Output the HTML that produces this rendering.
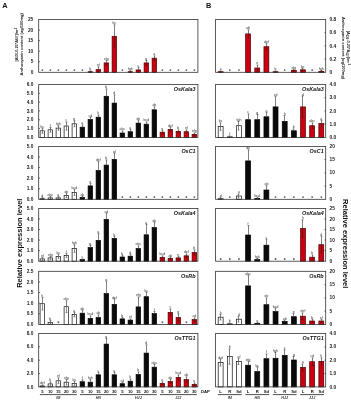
<!DOCTYPE html><html><head><meta charset="utf-8"><style>html,body{margin:0;padding:0;background:#fff;}svg{display:block;will-change:transform;}</style></head><body><svg width="351" height="400" viewBox="0 0 351 400">
<style>text{font-family:"Liberation Sans", sans-serif;}.tk{font-size:4.8px;font-weight:bold;fill:#222;}.sig{font-size:3.5px;fill:#333;text-anchor:middle;}.gene{font-size:5.45px;font-weight:bold;font-style:italic;fill:#111;text-anchor:end;}.ax{stroke:#333;stroke-width:0.8;fill:none;}.err{stroke:#555;stroke-width:0.75;}.xl{font-size:4.2px;font-weight:bold;fill:#111;text-anchor:middle;}.gl{font-size:3.7px;font-weight:bold;font-style:italic;fill:#333;text-anchor:middle;}</style>
<rect width="351" height="400" fill="#fff"/>
<text x="2.2" y="7.6" style="font-size:7.3px;font-weight:bold;fill:#111">A</text>
<text x="205.9" y="7.6" style="font-size:7.3px;font-weight:bold;fill:#111">B</text>
<circle cx="42.35" cy="70.10" r="0.95" fill="#606060"/>
<circle cx="50.35" cy="70.10" r="0.95" fill="#606060"/>
<circle cx="58.35" cy="70.10" r="0.95" fill="#606060"/>
<circle cx="66.35" cy="70.10" r="0.95" fill="#606060"/>
<circle cx="74.35" cy="70.10" r="0.95" fill="#606060"/>
<circle cx="82.35" cy="70.10" r="0.95" fill="#606060"/>
<rect x="88.10" y="71.70" width="4.50" height="0.60" fill="#cc0010" stroke="#4a0000" stroke-width="0.7"/>
<line x1="90.50" y1="70.90" x2="90.50" y2="71.70" class="err"/>
<line x1="89.60" y1="70.90" x2="91.40" y2="70.90" class="err"/>
<line x1="90.50" y1="71.70" x2="90.50" y2="71.80" stroke="#5a0000" stroke-width="0.7"/>
<line x1="89.60" y1="71.80" x2="91.40" y2="71.80" stroke="#5a0000" stroke-width="0.7"/>
<text x="90.35" y="70.30" class="sig">b</text>
<rect x="96.10" y="69.60" width="4.50" height="2.70" fill="#cc0010" stroke="#4a0000" stroke-width="0.7"/>
<line x1="98.50" y1="66.80" x2="98.50" y2="69.60" class="err"/>
<line x1="97.60" y1="66.80" x2="99.40" y2="66.80" class="err"/>
<line x1="98.50" y1="69.60" x2="98.50" y2="71.80" stroke="#5a0000" stroke-width="0.7"/>
<line x1="97.60" y1="71.80" x2="99.40" y2="71.80" stroke="#5a0000" stroke-width="0.7"/>
<text x="98.35" y="66.20" class="sig">ef</text>
<rect x="104.10" y="62.90" width="4.50" height="9.40" fill="#cc0010" stroke="#4a0000" stroke-width="0.7"/>
<line x1="106.50" y1="60.40" x2="106.50" y2="62.90" class="err"/>
<line x1="105.60" y1="60.40" x2="107.40" y2="60.40" class="err"/>
<line x1="106.50" y1="62.90" x2="106.50" y2="65.40" stroke="#5a0000" stroke-width="0.7"/>
<line x1="105.60" y1="65.40" x2="107.40" y2="65.40" stroke="#5a0000" stroke-width="0.7"/>
<text x="106.35" y="59.80" class="sig">efg</text>
<rect x="112.10" y="36.30" width="4.50" height="36.00" fill="#cc0010" stroke="#4a0000" stroke-width="0.7"/>
<line x1="114.50" y1="24.80" x2="114.50" y2="36.30" class="err"/>
<line x1="113.60" y1="24.80" x2="115.40" y2="24.80" class="err"/>
<line x1="114.50" y1="36.30" x2="114.50" y2="47.80" stroke="#5a0000" stroke-width="0.7"/>
<line x1="113.60" y1="47.80" x2="115.40" y2="47.80" stroke="#5a0000" stroke-width="0.7"/>
<text x="114.35" y="24.20" class="sig">bc</text>
<circle cx="122.35" cy="70.10" r="0.95" fill="#606060"/>
<rect x="128.10" y="71.70" width="4.50" height="0.60" fill="#cc0010" stroke="#4a0000" stroke-width="0.7"/>
<line x1="130.50" y1="70.90" x2="130.50" y2="71.70" class="err"/>
<line x1="129.60" y1="70.90" x2="131.40" y2="70.90" class="err"/>
<line x1="130.50" y1="71.70" x2="130.50" y2="71.80" stroke="#5a0000" stroke-width="0.7"/>
<line x1="129.60" y1="71.80" x2="131.40" y2="71.80" stroke="#5a0000" stroke-width="0.7"/>
<text x="130.35" y="70.30" class="sig">fgh</text>
<rect x="136.10" y="69.90" width="4.50" height="2.40" fill="#cc0010" stroke="#4a0000" stroke-width="0.7"/>
<line x1="138.50" y1="67.40" x2="138.50" y2="69.90" class="err"/>
<line x1="137.60" y1="67.40" x2="139.40" y2="67.40" class="err"/>
<line x1="138.50" y1="69.90" x2="138.50" y2="71.80" stroke="#5a0000" stroke-width="0.7"/>
<line x1="137.60" y1="71.80" x2="139.40" y2="71.80" stroke="#5a0000" stroke-width="0.7"/>
<text x="138.35" y="66.80" class="sig">c</text>
<rect x="144.10" y="62.90" width="4.50" height="9.40" fill="#cc0010" stroke="#4a0000" stroke-width="0.7"/>
<line x1="146.50" y1="60.40" x2="146.50" y2="62.90" class="err"/>
<line x1="145.60" y1="60.40" x2="147.40" y2="60.40" class="err"/>
<line x1="146.50" y1="62.90" x2="146.50" y2="65.40" stroke="#5a0000" stroke-width="0.7"/>
<line x1="145.60" y1="65.40" x2="147.40" y2="65.40" stroke="#5a0000" stroke-width="0.7"/>
<text x="146.35" y="59.80" class="sig">g</text>
<rect x="152.10" y="58.20" width="4.50" height="14.10" fill="#cc0010" stroke="#4a0000" stroke-width="0.7"/>
<line x1="154.50" y1="55.90" x2="154.50" y2="58.20" class="err"/>
<line x1="153.60" y1="55.90" x2="155.40" y2="55.90" class="err"/>
<line x1="154.50" y1="58.20" x2="154.50" y2="60.50" stroke="#5a0000" stroke-width="0.7"/>
<line x1="153.60" y1="60.50" x2="155.40" y2="60.50" stroke="#5a0000" stroke-width="0.7"/>
<text x="154.35" y="55.30" class="sig">a</text>
<circle cx="162.35" cy="70.10" r="0.95" fill="#606060"/>
<circle cx="170.35" cy="70.10" r="0.95" fill="#606060"/>
<circle cx="178.35" cy="70.10" r="0.95" fill="#606060"/>
<circle cx="186.35" cy="70.10" r="0.95" fill="#606060"/>
<circle cx="194.35" cy="70.10" r="0.95" fill="#606060"/>
<rect x="218.20" y="71.70" width="4.90" height="0.60" fill="#cc0010" stroke="#4a0000" stroke-width="0.7"/>
<line x1="220.50" y1="70.90" x2="220.50" y2="71.70" class="err"/>
<line x1="219.60" y1="70.90" x2="221.40" y2="70.90" class="err"/>
<line x1="220.50" y1="71.70" x2="220.50" y2="71.80" stroke="#5a0000" stroke-width="0.7"/>
<line x1="219.60" y1="71.80" x2="221.40" y2="71.80" stroke="#5a0000" stroke-width="0.7"/>
<text x="220.65" y="70.30" class="sig">a</text>
<circle cx="229.80" cy="70.10" r="0.95" fill="#606060"/>
<circle cx="238.95" cy="70.10" r="0.95" fill="#606060"/>
<rect x="245.65" y="33.90" width="4.90" height="38.40" fill="#cc0010" stroke="#4a0000" stroke-width="0.7"/>
<line x1="248.50" y1="29.90" x2="248.50" y2="33.90" class="err"/>
<line x1="247.60" y1="29.90" x2="249.40" y2="29.90" class="err"/>
<line x1="248.50" y1="33.90" x2="248.50" y2="37.90" stroke="#5a0000" stroke-width="0.7"/>
<line x1="247.60" y1="37.90" x2="249.40" y2="37.90" stroke="#5a0000" stroke-width="0.7"/>
<text x="248.10" y="29.30" class="sig">ab</text>
<rect x="254.80" y="68.00" width="4.90" height="4.30" fill="#cc0010" stroke="#4a0000" stroke-width="0.7"/>
<line x1="257.50" y1="65.00" x2="257.50" y2="68.00" class="err"/>
<line x1="256.60" y1="65.00" x2="258.40" y2="65.00" class="err"/>
<line x1="257.50" y1="68.00" x2="257.50" y2="71.00" stroke="#5a0000" stroke-width="0.7"/>
<line x1="256.60" y1="71.00" x2="258.40" y2="71.00" stroke="#5a0000" stroke-width="0.7"/>
<text x="257.25" y="64.40" class="sig">e</text>
<rect x="263.95" y="46.70" width="4.90" height="25.60" fill="#cc0010" stroke="#4a0000" stroke-width="0.7"/>
<line x1="266.50" y1="43.60" x2="266.50" y2="46.70" class="err"/>
<line x1="265.60" y1="43.60" x2="267.40" y2="43.60" class="err"/>
<line x1="266.50" y1="46.70" x2="266.50" y2="49.80" stroke="#5a0000" stroke-width="0.7"/>
<line x1="265.60" y1="49.80" x2="267.40" y2="49.80" stroke="#5a0000" stroke-width="0.7"/>
<text x="266.40" y="43.00" class="sig">def</text>
<rect x="273.10" y="71.70" width="4.90" height="0.60" fill="#cc0010" stroke="#4a0000" stroke-width="0.7"/>
<line x1="275.50" y1="70.90" x2="275.50" y2="71.70" class="err"/>
<line x1="274.60" y1="70.90" x2="276.40" y2="70.90" class="err"/>
<line x1="275.50" y1="71.70" x2="275.50" y2="71.80" stroke="#5a0000" stroke-width="0.7"/>
<line x1="274.60" y1="71.80" x2="276.40" y2="71.80" stroke="#5a0000" stroke-width="0.7"/>
<text x="275.55" y="70.30" class="sig">b</text>
<circle cx="284.70" cy="70.10" r="0.95" fill="#606060"/>
<rect x="291.40" y="70.40" width="4.90" height="1.90" fill="#cc0010" stroke="#4a0000" stroke-width="0.7"/>
<line x1="293.50" y1="69.40" x2="293.50" y2="70.40" class="err"/>
<line x1="292.60" y1="69.40" x2="294.40" y2="69.40" class="err"/>
<line x1="293.50" y1="70.40" x2="293.50" y2="71.40" stroke="#5a0000" stroke-width="0.7"/>
<line x1="292.60" y1="71.40" x2="294.40" y2="71.40" stroke="#5a0000" stroke-width="0.7"/>
<text x="293.85" y="68.80" class="sig">efg</text>
<rect x="300.55" y="69.80" width="4.90" height="2.50" fill="#cc0010" stroke="#4a0000" stroke-width="0.7"/>
<line x1="302.50" y1="68.40" x2="302.50" y2="69.80" class="err"/>
<line x1="301.60" y1="68.40" x2="303.40" y2="68.40" class="err"/>
<line x1="302.50" y1="69.80" x2="302.50" y2="71.20" stroke="#5a0000" stroke-width="0.7"/>
<line x1="301.60" y1="71.20" x2="303.40" y2="71.20" stroke="#5a0000" stroke-width="0.7"/>
<text x="303.00" y="67.80" class="sig">bc</text>
<circle cx="312.15" cy="70.10" r="0.95" fill="#606060"/>
<rect x="318.85" y="71.40" width="4.90" height="0.90" fill="#cc0010" stroke="#4a0000" stroke-width="0.7"/>
<line x1="321.50" y1="70.40" x2="321.50" y2="71.40" class="err"/>
<line x1="320.60" y1="70.40" x2="322.40" y2="70.40" class="err"/>
<line x1="321.50" y1="71.40" x2="321.50" y2="71.80" stroke="#5a0000" stroke-width="0.7"/>
<line x1="320.60" y1="71.80" x2="322.40" y2="71.80" stroke="#5a0000" stroke-width="0.7"/>
<text x="321.30" y="69.80" class="sig">fgh</text>
<rect x="38.7" y="19.5" width="159.2" height="52.8" class="ax"/>
<rect x="215.6" y="19.5" width="110.1" height="52.8" class="ax"/>
<text x="33.3" y="21.10" class="tk" text-anchor="end">25</text>
<text x="33.3" y="31.66" class="tk" text-anchor="end">20</text>
<line x1="38.70" y1="30.06" x2="39.90" y2="30.06" class="ax"/>
<text x="33.3" y="42.22" class="tk" text-anchor="end">15</text>
<line x1="38.70" y1="40.62" x2="39.90" y2="40.62" class="ax"/>
<text x="33.3" y="52.78" class="tk" text-anchor="end">10</text>
<line x1="38.70" y1="51.18" x2="39.90" y2="51.18" class="ax"/>
<text x="33.3" y="63.34" class="tk" text-anchor="end">5</text>
<line x1="38.70" y1="61.74" x2="39.90" y2="61.74" class="ax"/>
<text x="33.3" y="73.90" class="tk" text-anchor="end">0</text>
<text x="329.6" y="21.10" class="tk" text-anchor="start">0.8</text>
<text x="329.6" y="34.30" class="tk" text-anchor="start">0.6</text>
<line x1="324.50" y1="32.70" x2="325.70" y2="32.70" class="ax"/>
<text x="329.6" y="47.50" class="tk" text-anchor="start">0.4</text>
<line x1="324.50" y1="45.90" x2="325.70" y2="45.90" class="ax"/>
<text x="329.6" y="60.70" class="tk" text-anchor="start">0.2</text>
<line x1="324.50" y1="59.10" x2="325.70" y2="59.10" class="ax"/>
<text x="329.6" y="73.90" class="tk" text-anchor="start">0</text>
<rect x="40.10" y="130.80" width="4.50" height="6.60" fill="#ffffff" stroke="#111" stroke-width="0.7"/>
<line x1="42.50" y1="128.40" x2="42.50" y2="130.80" class="err"/>
<line x1="41.60" y1="128.40" x2="43.40" y2="128.40" class="err"/>
<line x1="42.50" y1="130.80" x2="42.50" y2="133.20" stroke="#555" stroke-width="0.7"/>
<line x1="41.60" y1="133.20" x2="43.40" y2="133.20" stroke="#555" stroke-width="0.7"/>
<text x="42.35" y="127.80" class="sig">bc</text>
<rect x="48.10" y="129.80" width="4.50" height="7.60" fill="#ffffff" stroke="#111" stroke-width="0.7"/>
<line x1="50.50" y1="127.40" x2="50.50" y2="129.80" class="err"/>
<line x1="49.60" y1="127.40" x2="51.40" y2="127.40" class="err"/>
<line x1="50.50" y1="129.80" x2="50.50" y2="132.20" stroke="#555" stroke-width="0.7"/>
<line x1="49.60" y1="132.20" x2="51.40" y2="132.20" stroke="#555" stroke-width="0.7"/>
<text x="50.35" y="126.80" class="sig">f</text>
<rect x="56.10" y="128.10" width="4.50" height="9.30" fill="#ffffff" stroke="#111" stroke-width="0.7"/>
<line x1="58.50" y1="125.90" x2="58.50" y2="128.10" class="err"/>
<line x1="57.60" y1="125.90" x2="59.40" y2="125.90" class="err"/>
<line x1="58.50" y1="128.10" x2="58.50" y2="130.30" stroke="#555" stroke-width="0.7"/>
<line x1="57.60" y1="130.30" x2="59.40" y2="130.30" stroke="#555" stroke-width="0.7"/>
<text x="58.35" y="125.30" class="sig">fgh</text>
<rect x="64.10" y="126.00" width="4.50" height="11.40" fill="#ffffff" stroke="#111" stroke-width="0.7"/>
<line x1="66.50" y1="121.90" x2="66.50" y2="126.00" class="err"/>
<line x1="65.60" y1="121.90" x2="67.40" y2="121.90" class="err"/>
<line x1="66.50" y1="126.00" x2="66.50" y2="130.10" stroke="#555" stroke-width="0.7"/>
<line x1="65.60" y1="130.10" x2="67.40" y2="130.10" stroke="#555" stroke-width="0.7"/>
<text x="66.35" y="121.30" class="sig">c</text>
<rect x="72.10" y="123.80" width="4.50" height="13.60" fill="#ffffff" stroke="#111" stroke-width="0.7"/>
<line x1="74.50" y1="120.90" x2="74.50" y2="123.80" class="err"/>
<line x1="73.60" y1="120.90" x2="75.40" y2="120.90" class="err"/>
<line x1="74.50" y1="123.80" x2="74.50" y2="126.70" stroke="#555" stroke-width="0.7"/>
<line x1="73.60" y1="126.70" x2="75.40" y2="126.70" stroke="#555" stroke-width="0.7"/>
<text x="74.35" y="120.30" class="sig">g</text>
<rect x="80.10" y="127.20" width="4.50" height="10.20" fill="#0a0a0a" stroke="#000" stroke-width="0.7"/>
<line x1="82.50" y1="124.90" x2="82.50" y2="127.20" class="err"/>
<line x1="81.60" y1="124.90" x2="83.40" y2="124.90" class="err"/>
<text x="82.35" y="124.30" class="sig">a</text>
<rect x="88.10" y="119.50" width="4.50" height="17.90" fill="#0a0a0a" stroke="#000" stroke-width="0.7"/>
<line x1="90.50" y1="117.40" x2="90.50" y2="119.50" class="err"/>
<line x1="89.60" y1="117.40" x2="91.40" y2="117.40" class="err"/>
<text x="90.35" y="116.80" class="sig">cd</text>
<rect x="96.10" y="117.20" width="4.50" height="20.20" fill="#0a0a0a" stroke="#000" stroke-width="0.7"/>
<line x1="98.50" y1="114.90" x2="98.50" y2="117.20" class="err"/>
<line x1="97.60" y1="114.90" x2="99.40" y2="114.90" class="err"/>
<text x="98.35" y="114.30" class="sig">h</text>
<rect x="104.10" y="96.30" width="4.50" height="41.10" fill="#0a0a0a" stroke="#000" stroke-width="0.7"/>
<line x1="106.50" y1="88.90" x2="106.50" y2="96.30" class="err"/>
<line x1="105.60" y1="88.90" x2="107.40" y2="88.90" class="err"/>
<text x="106.35" y="88.30" class="sig">b</text>
<rect x="112.10" y="103.10" width="4.50" height="34.30" fill="#0a0a0a" stroke="#000" stroke-width="0.7"/>
<line x1="114.50" y1="94.90" x2="114.50" y2="103.10" class="err"/>
<line x1="113.60" y1="94.90" x2="115.40" y2="94.90" class="err"/>
<text x="114.35" y="94.30" class="sig">d</text>
<rect x="120.10" y="133.00" width="4.50" height="4.40" fill="#0a0a0a" stroke="#000" stroke-width="0.7"/>
<line x1="122.50" y1="130.90" x2="122.50" y2="133.00" class="err"/>
<line x1="121.60" y1="130.90" x2="123.40" y2="130.90" class="err"/>
<text x="122.35" y="130.30" class="sig">abc</text>
<rect x="128.10" y="131.70" width="4.50" height="5.70" fill="#0a0a0a" stroke="#000" stroke-width="0.7"/>
<line x1="130.50" y1="129.40" x2="130.50" y2="131.70" class="err"/>
<line x1="129.60" y1="129.40" x2="131.40" y2="129.40" class="err"/>
<text x="130.35" y="128.80" class="sig">a</text>
<rect x="136.10" y="123.10" width="4.50" height="14.30" fill="#0a0a0a" stroke="#000" stroke-width="0.7"/>
<line x1="138.50" y1="120.40" x2="138.50" y2="123.10" class="err"/>
<line x1="137.60" y1="120.40" x2="139.40" y2="120.40" class="err"/>
<text x="138.35" y="119.80" class="sig">de</text>
<rect x="144.10" y="124.20" width="4.50" height="13.20" fill="#0a0a0a" stroke="#000" stroke-width="0.7"/>
<line x1="146.50" y1="121.90" x2="146.50" y2="124.20" class="err"/>
<line x1="145.60" y1="121.90" x2="147.40" y2="121.90" class="err"/>
<text x="146.35" y="121.30" class="sig">bcd</text>
<rect x="152.10" y="109.80" width="4.50" height="27.60" fill="#0a0a0a" stroke="#000" stroke-width="0.7"/>
<line x1="154.50" y1="106.90" x2="154.50" y2="109.80" class="err"/>
<line x1="153.60" y1="106.90" x2="155.40" y2="106.90" class="err"/>
<text x="154.35" y="106.30" class="sig">ab</text>
<rect x="160.10" y="132.20" width="4.50" height="5.20" fill="#cc0010" stroke="#4a0000" stroke-width="0.7"/>
<line x1="162.50" y1="130.40" x2="162.50" y2="132.20" class="err"/>
<line x1="161.60" y1="130.40" x2="163.40" y2="130.40" class="err"/>
<line x1="162.50" y1="132.20" x2="162.50" y2="134.00" stroke="#5a0000" stroke-width="0.7"/>
<line x1="161.60" y1="134.00" x2="163.40" y2="134.00" stroke="#5a0000" stroke-width="0.7"/>
<text x="162.35" y="129.80" class="sig">e</text>
<rect x="168.10" y="129.40" width="4.50" height="8.00" fill="#cc0010" stroke="#4a0000" stroke-width="0.7"/>
<line x1="170.50" y1="127.40" x2="170.50" y2="129.40" class="err"/>
<line x1="169.60" y1="127.40" x2="171.40" y2="127.40" class="err"/>
<line x1="170.50" y1="129.40" x2="170.50" y2="131.40" stroke="#5a0000" stroke-width="0.7"/>
<line x1="169.60" y1="131.40" x2="171.40" y2="131.40" stroke="#5a0000" stroke-width="0.7"/>
<text x="170.35" y="126.80" class="sig">def</text>
<rect x="176.10" y="131.40" width="4.50" height="6.00" fill="#cc0010" stroke="#4a0000" stroke-width="0.7"/>
<line x1="178.50" y1="129.90" x2="178.50" y2="131.40" class="err"/>
<line x1="177.60" y1="129.90" x2="179.40" y2="129.90" class="err"/>
<line x1="178.50" y1="131.40" x2="178.50" y2="132.90" stroke="#5a0000" stroke-width="0.7"/>
<line x1="177.60" y1="132.90" x2="179.40" y2="132.90" stroke="#5a0000" stroke-width="0.7"/>
<text x="178.35" y="129.30" class="sig">b</text>
<rect x="184.10" y="131.70" width="4.50" height="5.70" fill="#cc0010" stroke="#4a0000" stroke-width="0.7"/>
<line x1="186.50" y1="129.90" x2="186.50" y2="131.70" class="err"/>
<line x1="185.60" y1="129.90" x2="187.40" y2="129.90" class="err"/>
<line x1="186.50" y1="131.70" x2="186.50" y2="133.50" stroke="#5a0000" stroke-width="0.7"/>
<line x1="185.60" y1="133.50" x2="187.40" y2="133.50" stroke="#5a0000" stroke-width="0.7"/>
<text x="186.35" y="129.30" class="sig">ef</text>
<rect x="192.10" y="134.40" width="4.50" height="3.00" fill="#cc0010" stroke="#4a0000" stroke-width="0.7"/>
<line x1="194.50" y1="132.90" x2="194.50" y2="134.40" class="err"/>
<line x1="193.60" y1="132.90" x2="195.40" y2="132.90" class="err"/>
<line x1="194.50" y1="134.40" x2="194.50" y2="135.90" stroke="#5a0000" stroke-width="0.7"/>
<line x1="193.60" y1="135.90" x2="195.40" y2="135.90" stroke="#5a0000" stroke-width="0.7"/>
<text x="194.35" y="132.30" class="sig">efg</text>
<rect x="218.20" y="126.60" width="4.90" height="10.80" fill="#ffffff" stroke="#111" stroke-width="0.7"/>
<line x1="220.50" y1="122.90" x2="220.50" y2="126.60" class="err"/>
<line x1="219.60" y1="122.90" x2="221.40" y2="122.90" class="err"/>
<line x1="220.50" y1="126.60" x2="220.50" y2="130.30" stroke="#555" stroke-width="0.7"/>
<line x1="219.60" y1="130.30" x2="221.40" y2="130.30" stroke="#555" stroke-width="0.7"/>
<text x="220.65" y="122.30" class="sig">bc</text>
<rect x="227.35" y="136.80" width="4.90" height="0.60" fill="#ffffff" stroke="#111" stroke-width="0.7"/>
<line x1="229.50" y1="135.90" x2="229.50" y2="136.80" class="err"/>
<line x1="228.60" y1="135.90" x2="230.40" y2="135.90" class="err"/>
<line x1="229.50" y1="136.80" x2="229.50" y2="136.90" stroke="#555" stroke-width="0.7"/>
<line x1="228.60" y1="136.90" x2="230.40" y2="136.90" stroke="#555" stroke-width="0.7"/>
<text x="229.80" y="135.30" class="sig">f</text>
<rect x="236.50" y="125.70" width="4.90" height="11.70" fill="#ffffff" stroke="#111" stroke-width="0.7"/>
<line x1="238.50" y1="121.40" x2="238.50" y2="125.70" class="err"/>
<line x1="237.60" y1="121.40" x2="239.40" y2="121.40" class="err"/>
<line x1="238.50" y1="125.70" x2="238.50" y2="130.00" stroke="#555" stroke-width="0.7"/>
<line x1="237.60" y1="130.00" x2="239.40" y2="130.00" stroke="#555" stroke-width="0.7"/>
<text x="238.95" y="120.80" class="sig">fgh</text>
<rect x="245.65" y="119.70" width="4.90" height="17.70" fill="#0a0a0a" stroke="#000" stroke-width="0.7"/>
<line x1="248.50" y1="113.90" x2="248.50" y2="119.70" class="err"/>
<line x1="247.60" y1="113.90" x2="249.40" y2="113.90" class="err"/>
<text x="248.10" y="113.30" class="sig">c</text>
<rect x="254.80" y="119.70" width="4.90" height="17.70" fill="#0a0a0a" stroke="#000" stroke-width="0.7"/>
<line x1="257.50" y1="114.40" x2="257.50" y2="119.70" class="err"/>
<line x1="256.60" y1="114.40" x2="258.40" y2="114.40" class="err"/>
<text x="257.25" y="113.80" class="sig">g</text>
<rect x="263.95" y="116.80" width="4.90" height="20.60" fill="#0a0a0a" stroke="#000" stroke-width="0.7"/>
<line x1="266.50" y1="112.40" x2="266.50" y2="116.80" class="err"/>
<line x1="265.60" y1="112.40" x2="267.40" y2="112.40" class="err"/>
<text x="266.40" y="111.80" class="sig">a</text>
<rect x="273.10" y="106.90" width="4.90" height="30.50" fill="#0a0a0a" stroke="#000" stroke-width="0.7"/>
<line x1="275.50" y1="96.60" x2="275.50" y2="106.90" class="err"/>
<line x1="274.60" y1="96.60" x2="276.40" y2="96.60" class="err"/>
<text x="275.55" y="96.00" class="sig">cd</text>
<rect x="282.25" y="121.40" width="4.90" height="16.00" fill="#0a0a0a" stroke="#000" stroke-width="0.7"/>
<line x1="284.50" y1="115.40" x2="284.50" y2="121.40" class="err"/>
<line x1="283.60" y1="115.40" x2="285.40" y2="115.40" class="err"/>
<text x="284.70" y="114.80" class="sig">h</text>
<rect x="291.40" y="130.80" width="4.90" height="6.60" fill="#0a0a0a" stroke="#000" stroke-width="0.7"/>
<line x1="293.50" y1="128.90" x2="293.50" y2="130.80" class="err"/>
<line x1="292.60" y1="128.90" x2="294.40" y2="128.90" class="err"/>
<text x="293.85" y="128.30" class="sig">b</text>
<rect x="300.55" y="106.90" width="4.90" height="30.50" fill="#cc0010" stroke="#4a0000" stroke-width="0.7"/>
<line x1="302.50" y1="96.10" x2="302.50" y2="106.90" class="err"/>
<line x1="301.60" y1="96.10" x2="303.40" y2="96.10" class="err"/>
<line x1="302.50" y1="106.90" x2="302.50" y2="117.70" stroke="#5a0000" stroke-width="0.7"/>
<line x1="301.60" y1="117.70" x2="303.40" y2="117.70" stroke="#5a0000" stroke-width="0.7"/>
<text x="303.00" y="95.50" class="sig">d</text>
<rect x="309.70" y="125.70" width="4.90" height="11.70" fill="#cc0010" stroke="#4a0000" stroke-width="0.7"/>
<line x1="312.50" y1="122.90" x2="312.50" y2="125.70" class="err"/>
<line x1="311.60" y1="122.90" x2="313.40" y2="122.90" class="err"/>
<line x1="312.50" y1="125.70" x2="312.50" y2="128.50" stroke="#5a0000" stroke-width="0.7"/>
<line x1="311.60" y1="128.50" x2="313.40" y2="128.50" stroke="#5a0000" stroke-width="0.7"/>
<text x="312.15" y="122.30" class="sig">abc</text>
<rect x="318.85" y="123.60" width="4.90" height="13.80" fill="#cc0010" stroke="#4a0000" stroke-width="0.7"/>
<line x1="321.50" y1="120.40" x2="321.50" y2="123.60" class="err"/>
<line x1="320.60" y1="120.40" x2="322.40" y2="120.40" class="err"/>
<line x1="321.50" y1="123.60" x2="321.50" y2="126.80" stroke="#5a0000" stroke-width="0.7"/>
<line x1="320.60" y1="126.80" x2="322.40" y2="126.80" stroke="#5a0000" stroke-width="0.7"/>
<text x="321.30" y="119.80" class="sig">a</text>
<rect x="38.7" y="84.5" width="159.2" height="52.900000000000006" class="ax"/>
<rect x="215.6" y="84.5" width="110.1" height="52.900000000000006" class="ax"/>
<text x="33.3" y="86.10" class="tk" text-anchor="end">6.0</text>
<text x="33.3" y="94.92" class="tk" text-anchor="end">5.0</text>
<line x1="38.70" y1="93.32" x2="39.90" y2="93.32" class="ax"/>
<text x="33.3" y="103.73" class="tk" text-anchor="end">4.0</text>
<line x1="38.70" y1="102.13" x2="39.90" y2="102.13" class="ax"/>
<text x="33.3" y="112.55" class="tk" text-anchor="end">3.0</text>
<line x1="38.70" y1="110.95" x2="39.90" y2="110.95" class="ax"/>
<text x="33.3" y="121.37" class="tk" text-anchor="end">2.0</text>
<line x1="38.70" y1="119.77" x2="39.90" y2="119.77" class="ax"/>
<text x="33.3" y="130.18" class="tk" text-anchor="end">1.0</text>
<line x1="38.70" y1="128.58" x2="39.90" y2="128.58" class="ax"/>
<text x="33.3" y="139.00" class="tk" text-anchor="end">0.0</text>
<text x="329.6" y="86.10" class="tk" text-anchor="start">4.0</text>
<text x="329.6" y="99.32" class="tk" text-anchor="start">3.0</text>
<line x1="324.50" y1="97.72" x2="325.70" y2="97.72" class="ax"/>
<text x="329.6" y="112.55" class="tk" text-anchor="start">2.0</text>
<line x1="324.50" y1="110.95" x2="325.70" y2="110.95" class="ax"/>
<text x="329.6" y="125.78" class="tk" text-anchor="start">1.0</text>
<line x1="324.50" y1="124.18" x2="325.70" y2="124.18" class="ax"/>
<text x="329.6" y="139.00" class="tk" text-anchor="start">0.0</text>
<text x="195.6" y="91.10" class="gene">OsKala3</text>
<text x="323.7" y="91.10" class="gene">OsKala3</text>
<rect x="40.10" y="198.70" width="4.50" height="0.60" fill="#ffffff" stroke="#111" stroke-width="0.7"/>
<line x1="42.50" y1="197.40" x2="42.50" y2="198.70" class="err"/>
<line x1="41.60" y1="197.40" x2="43.40" y2="197.40" class="err"/>
<line x1="42.50" y1="198.70" x2="42.50" y2="198.80" stroke="#555" stroke-width="0.7"/>
<line x1="41.60" y1="198.80" x2="43.40" y2="198.80" stroke="#555" stroke-width="0.7"/>
<text x="42.35" y="196.80" class="sig">d</text>
<rect x="48.10" y="197.90" width="4.50" height="1.40" fill="#ffffff" stroke="#111" stroke-width="0.7"/>
<line x1="50.50" y1="196.40" x2="50.50" y2="197.90" class="err"/>
<line x1="49.60" y1="196.40" x2="51.40" y2="196.40" class="err"/>
<line x1="50.50" y1="197.90" x2="50.50" y2="198.80" stroke="#555" stroke-width="0.7"/>
<line x1="49.60" y1="198.80" x2="51.40" y2="198.80" stroke="#555" stroke-width="0.7"/>
<text x="50.35" y="195.80" class="sig">abc</text>
<rect x="56.10" y="197.90" width="4.50" height="1.40" fill="#ffffff" stroke="#111" stroke-width="0.7"/>
<line x1="58.50" y1="196.40" x2="58.50" y2="197.90" class="err"/>
<line x1="57.60" y1="196.40" x2="59.40" y2="196.40" class="err"/>
<line x1="58.50" y1="197.90" x2="58.50" y2="198.80" stroke="#555" stroke-width="0.7"/>
<line x1="57.60" y1="198.80" x2="59.40" y2="198.80" stroke="#555" stroke-width="0.7"/>
<text x="58.35" y="195.80" class="sig">a</text>
<rect x="64.10" y="195.40" width="4.50" height="3.90" fill="#ffffff" stroke="#111" stroke-width="0.7"/>
<line x1="66.50" y1="193.40" x2="66.50" y2="195.40" class="err"/>
<line x1="65.60" y1="193.40" x2="67.40" y2="193.40" class="err"/>
<line x1="66.50" y1="195.40" x2="66.50" y2="197.40" stroke="#555" stroke-width="0.7"/>
<line x1="65.60" y1="197.40" x2="67.40" y2="197.40" stroke="#555" stroke-width="0.7"/>
<text x="66.35" y="192.80" class="sig">de</text>
<rect x="72.10" y="192.40" width="4.50" height="6.90" fill="#ffffff" stroke="#111" stroke-width="0.7"/>
<line x1="74.50" y1="189.40" x2="74.50" y2="192.40" class="err"/>
<line x1="73.60" y1="189.40" x2="75.40" y2="189.40" class="err"/>
<line x1="74.50" y1="192.40" x2="74.50" y2="195.40" stroke="#555" stroke-width="0.7"/>
<line x1="73.60" y1="195.40" x2="75.40" y2="195.40" stroke="#555" stroke-width="0.7"/>
<text x="74.35" y="188.80" class="sig">bcd</text>
<rect x="80.10" y="197.50" width="4.50" height="1.80" fill="#0a0a0a" stroke="#000" stroke-width="0.7"/>
<line x1="82.50" y1="196.40" x2="82.50" y2="197.50" class="err"/>
<line x1="81.60" y1="196.40" x2="83.40" y2="196.40" class="err"/>
<text x="82.35" y="195.80" class="sig">ab</text>
<rect x="88.10" y="185.90" width="4.50" height="13.40" fill="#0a0a0a" stroke="#000" stroke-width="0.7"/>
<line x1="90.50" y1="183.40" x2="90.50" y2="185.90" class="err"/>
<line x1="89.60" y1="183.40" x2="91.40" y2="183.40" class="err"/>
<text x="90.35" y="182.80" class="sig">e</text>
<rect x="96.10" y="170.50" width="4.50" height="28.80" fill="#0a0a0a" stroke="#000" stroke-width="0.7"/>
<line x1="98.50" y1="161.60" x2="98.50" y2="170.50" class="err"/>
<line x1="97.60" y1="161.60" x2="99.40" y2="161.60" class="err"/>
<text x="98.35" y="161.00" class="sig">def</text>
<rect x="104.10" y="165.10" width="4.50" height="34.20" fill="#0a0a0a" stroke="#000" stroke-width="0.7"/>
<line x1="106.50" y1="159.90" x2="106.50" y2="165.10" class="err"/>
<line x1="105.60" y1="159.90" x2="107.40" y2="159.90" class="err"/>
<text x="106.35" y="159.30" class="sig">b</text>
<rect x="112.10" y="159.40" width="4.50" height="39.90" fill="#0a0a0a" stroke="#000" stroke-width="0.7"/>
<line x1="114.50" y1="153.10" x2="114.50" y2="159.40" class="err"/>
<line x1="113.60" y1="153.10" x2="115.40" y2="153.10" class="err"/>
<text x="114.35" y="152.50" class="sig">ef</text>
<circle cx="122.35" cy="197.10" r="0.95" fill="#606060"/>
<circle cx="130.35" cy="197.10" r="0.95" fill="#606060"/>
<circle cx="138.35" cy="197.10" r="0.95" fill="#606060"/>
<circle cx="146.35" cy="197.10" r="0.95" fill="#606060"/>
<circle cx="154.35" cy="197.10" r="0.95" fill="#606060"/>
<circle cx="162.35" cy="197.10" r="0.95" fill="#606060"/>
<circle cx="170.35" cy="197.10" r="0.95" fill="#606060"/>
<circle cx="178.35" cy="197.10" r="0.95" fill="#606060"/>
<circle cx="186.35" cy="197.10" r="0.95" fill="#606060"/>
<circle cx="194.35" cy="197.10" r="0.95" fill="#606060"/>
<rect x="218.20" y="198.70" width="4.90" height="0.60" fill="#ffffff" stroke="#111" stroke-width="0.7"/>
<line x1="220.50" y1="197.40" x2="220.50" y2="198.70" class="err"/>
<line x1="219.60" y1="197.40" x2="221.40" y2="197.40" class="err"/>
<line x1="220.50" y1="198.70" x2="220.50" y2="198.80" stroke="#555" stroke-width="0.7"/>
<line x1="219.60" y1="198.80" x2="221.40" y2="198.80" stroke="#555" stroke-width="0.7"/>
<text x="220.65" y="196.80" class="sig">d</text>
<circle cx="229.80" cy="197.10" r="0.95" fill="#606060"/>
<rect x="236.50" y="196.00" width="4.90" height="3.30" fill="#ffffff" stroke="#111" stroke-width="0.7"/>
<line x1="238.50" y1="193.90" x2="238.50" y2="196.00" class="err"/>
<line x1="237.60" y1="193.90" x2="239.40" y2="193.90" class="err"/>
<line x1="238.50" y1="196.00" x2="238.50" y2="198.10" stroke="#555" stroke-width="0.7"/>
<line x1="237.60" y1="198.10" x2="239.40" y2="198.10" stroke="#555" stroke-width="0.7"/>
<text x="238.95" y="193.30" class="sig">a</text>
<rect x="245.65" y="160.90" width="4.90" height="38.40" fill="#0a0a0a" stroke="#000" stroke-width="0.7"/>
<line x1="248.50" y1="149.80" x2="248.50" y2="160.90" class="err"/>
<line x1="247.60" y1="149.80" x2="249.40" y2="149.80" class="err"/>
<text x="248.10" y="149.20" class="sig">de</text>
<rect x="254.80" y="198.50" width="4.90" height="0.80" fill="#0a0a0a" stroke="#000" stroke-width="0.7"/>
<line x1="257.50" y1="197.40" x2="257.50" y2="198.50" class="err"/>
<line x1="256.60" y1="197.40" x2="258.40" y2="197.40" class="err"/>
<text x="257.25" y="196.80" class="sig">bcd</text>
<rect x="263.95" y="190.00" width="4.90" height="9.30" fill="#0a0a0a" stroke="#000" stroke-width="0.7"/>
<line x1="266.50" y1="185.70" x2="266.50" y2="190.00" class="err"/>
<line x1="265.60" y1="185.70" x2="267.40" y2="185.70" class="err"/>
<text x="266.40" y="185.10" class="sig">ab</text>
<circle cx="275.55" cy="197.10" r="0.95" fill="#606060"/>
<circle cx="284.70" cy="197.10" r="0.95" fill="#606060"/>
<circle cx="293.85" cy="197.10" r="0.95" fill="#606060"/>
<circle cx="303.00" cy="197.10" r="0.95" fill="#606060"/>
<circle cx="312.15" cy="197.10" r="0.95" fill="#606060"/>
<circle cx="321.30" cy="197.10" r="0.95" fill="#606060"/>
<rect x="38.7" y="146.4" width="159.2" height="52.900000000000006" class="ax"/>
<rect x="215.6" y="146.4" width="110.1" height="52.900000000000006" class="ax"/>
<text x="33.3" y="148.00" class="tk" text-anchor="end">5.0</text>
<text x="33.3" y="158.58" class="tk" text-anchor="end">4.0</text>
<line x1="38.70" y1="156.98" x2="39.90" y2="156.98" class="ax"/>
<text x="33.3" y="169.16" class="tk" text-anchor="end">3.0</text>
<line x1="38.70" y1="167.56" x2="39.90" y2="167.56" class="ax"/>
<text x="33.3" y="179.74" class="tk" text-anchor="end">2.0</text>
<line x1="38.70" y1="178.14" x2="39.90" y2="178.14" class="ax"/>
<text x="33.3" y="190.32" class="tk" text-anchor="end">1.0</text>
<line x1="38.70" y1="188.72" x2="39.90" y2="188.72" class="ax"/>
<text x="33.3" y="200.90" class="tk" text-anchor="end">0.0</text>
<text x="329.6" y="148.00" class="tk" text-anchor="start">20</text>
<text x="329.6" y="161.22" class="tk" text-anchor="start">15</text>
<line x1="324.50" y1="159.62" x2="325.70" y2="159.62" class="ax"/>
<text x="329.6" y="174.45" class="tk" text-anchor="start">10</text>
<line x1="324.50" y1="172.85" x2="325.70" y2="172.85" class="ax"/>
<text x="329.6" y="187.68" class="tk" text-anchor="start">5</text>
<line x1="324.50" y1="186.08" x2="325.70" y2="186.08" class="ax"/>
<text x="329.6" y="200.90" class="tk" text-anchor="start">0</text>
<text x="195.6" y="153.00" class="gene">OsC1</text>
<text x="323.7" y="153.00" class="gene">OsC1</text>
<rect x="40.10" y="258.90" width="4.50" height="2.30" fill="#ffffff" stroke="#111" stroke-width="0.7"/>
<line x1="42.50" y1="257.40" x2="42.50" y2="258.90" class="err"/>
<line x1="41.60" y1="257.40" x2="43.40" y2="257.40" class="err"/>
<line x1="42.50" y1="258.90" x2="42.50" y2="260.40" stroke="#555" stroke-width="0.7"/>
<line x1="41.60" y1="260.40" x2="43.40" y2="260.40" stroke="#555" stroke-width="0.7"/>
<text x="42.35" y="256.80" class="sig">ef</text>
<rect x="48.10" y="257.90" width="4.50" height="3.30" fill="#ffffff" stroke="#111" stroke-width="0.7"/>
<line x1="50.50" y1="256.40" x2="50.50" y2="257.90" class="err"/>
<line x1="49.60" y1="256.40" x2="51.40" y2="256.40" class="err"/>
<line x1="50.50" y1="257.90" x2="50.50" y2="259.40" stroke="#555" stroke-width="0.7"/>
<line x1="49.60" y1="259.40" x2="51.40" y2="259.40" stroke="#555" stroke-width="0.7"/>
<text x="50.35" y="255.80" class="sig">efg</text>
<rect x="56.10" y="256.40" width="4.50" height="4.80" fill="#ffffff" stroke="#111" stroke-width="0.7"/>
<line x1="58.50" y1="254.40" x2="58.50" y2="256.40" class="err"/>
<line x1="57.60" y1="254.40" x2="59.40" y2="254.40" class="err"/>
<line x1="58.50" y1="256.40" x2="58.50" y2="258.40" stroke="#555" stroke-width="0.7"/>
<line x1="57.60" y1="258.40" x2="59.40" y2="258.40" stroke="#555" stroke-width="0.7"/>
<text x="58.35" y="253.80" class="sig">bc</text>
<rect x="64.10" y="255.40" width="4.50" height="5.80" fill="#ffffff" stroke="#111" stroke-width="0.7"/>
<line x1="66.50" y1="253.40" x2="66.50" y2="255.40" class="err"/>
<line x1="65.60" y1="253.40" x2="67.40" y2="253.40" class="err"/>
<line x1="66.50" y1="255.40" x2="66.50" y2="257.40" stroke="#555" stroke-width="0.7"/>
<line x1="65.60" y1="257.40" x2="67.40" y2="257.40" stroke="#555" stroke-width="0.7"/>
<text x="66.35" y="252.80" class="sig">f</text>
<rect x="72.10" y="248.60" width="4.50" height="12.60" fill="#ffffff" stroke="#111" stroke-width="0.7"/>
<line x1="74.50" y1="244.90" x2="74.50" y2="248.60" class="err"/>
<line x1="73.60" y1="244.90" x2="75.40" y2="244.90" class="err"/>
<line x1="74.50" y1="248.60" x2="74.50" y2="252.30" stroke="#555" stroke-width="0.7"/>
<line x1="73.60" y1="252.30" x2="75.40" y2="252.30" stroke="#555" stroke-width="0.7"/>
<text x="74.35" y="244.30" class="sig">fgh</text>
<rect x="80.10" y="259.60" width="4.50" height="1.60" fill="#0a0a0a" stroke="#000" stroke-width="0.7"/>
<line x1="82.50" y1="258.90" x2="82.50" y2="259.60" class="err"/>
<line x1="81.60" y1="258.90" x2="83.40" y2="258.90" class="err"/>
<text x="82.35" y="258.30" class="sig">c</text>
<rect x="88.10" y="247.60" width="4.50" height="13.60" fill="#0a0a0a" stroke="#000" stroke-width="0.7"/>
<line x1="90.50" y1="245.40" x2="90.50" y2="247.60" class="err"/>
<line x1="89.60" y1="245.40" x2="91.40" y2="245.40" class="err"/>
<text x="90.35" y="244.80" class="sig">g</text>
<rect x="96.10" y="240.40" width="4.50" height="20.80" fill="#0a0a0a" stroke="#000" stroke-width="0.7"/>
<line x1="98.50" y1="233.60" x2="98.50" y2="240.40" class="err"/>
<line x1="97.60" y1="233.60" x2="99.40" y2="233.60" class="err"/>
<text x="98.35" y="233.00" class="sig">a</text>
<rect x="104.10" y="219.40" width="4.50" height="41.80" fill="#0a0a0a" stroke="#000" stroke-width="0.7"/>
<line x1="106.50" y1="213.10" x2="106.50" y2="219.40" class="err"/>
<line x1="105.60" y1="213.10" x2="107.40" y2="213.10" class="err"/>
<text x="106.35" y="212.50" class="sig">cd</text>
<rect x="112.10" y="238.40" width="4.50" height="22.80" fill="#0a0a0a" stroke="#000" stroke-width="0.7"/>
<line x1="114.50" y1="236.20" x2="114.50" y2="238.40" class="err"/>
<line x1="113.60" y1="236.20" x2="115.40" y2="236.20" class="err"/>
<text x="114.35" y="235.60" class="sig">h</text>
<rect x="120.10" y="257.00" width="4.50" height="4.20" fill="#0a0a0a" stroke="#000" stroke-width="0.7"/>
<line x1="122.50" y1="255.40" x2="122.50" y2="257.00" class="err"/>
<line x1="121.60" y1="255.40" x2="123.40" y2="255.40" class="err"/>
<text x="122.35" y="254.80" class="sig">b</text>
<rect x="128.10" y="256.20" width="4.50" height="5.00" fill="#0a0a0a" stroke="#000" stroke-width="0.7"/>
<line x1="130.50" y1="254.40" x2="130.50" y2="256.20" class="err"/>
<line x1="129.60" y1="254.40" x2="131.40" y2="254.40" class="err"/>
<text x="130.35" y="253.80" class="sig">d</text>
<rect x="136.10" y="248.60" width="4.50" height="12.60" fill="#0a0a0a" stroke="#000" stroke-width="0.7"/>
<line x1="138.50" y1="245.90" x2="138.50" y2="248.60" class="err"/>
<line x1="137.60" y1="245.90" x2="139.40" y2="245.90" class="err"/>
<text x="138.35" y="245.30" class="sig">abc</text>
<rect x="144.10" y="234.80" width="4.50" height="26.40" fill="#0a0a0a" stroke="#000" stroke-width="0.7"/>
<line x1="146.50" y1="224.40" x2="146.50" y2="234.80" class="err"/>
<line x1="145.60" y1="224.40" x2="147.40" y2="224.40" class="err"/>
<text x="146.35" y="223.80" class="sig">a</text>
<rect x="152.10" y="227.60" width="4.50" height="33.60" fill="#0a0a0a" stroke="#000" stroke-width="0.7"/>
<line x1="154.50" y1="222.40" x2="154.50" y2="227.60" class="err"/>
<line x1="153.60" y1="222.40" x2="155.40" y2="222.40" class="err"/>
<text x="154.35" y="221.80" class="sig">de</text>
<rect x="160.10" y="257.50" width="4.50" height="3.70" fill="#cc0010" stroke="#4a0000" stroke-width="0.7"/>
<line x1="162.50" y1="255.90" x2="162.50" y2="257.50" class="err"/>
<line x1="161.60" y1="255.90" x2="163.40" y2="255.90" class="err"/>
<line x1="162.50" y1="257.50" x2="162.50" y2="259.10" stroke="#5a0000" stroke-width="0.7"/>
<line x1="161.60" y1="259.10" x2="163.40" y2="259.10" stroke="#5a0000" stroke-width="0.7"/>
<text x="162.35" y="255.30" class="sig">bcd</text>
<rect x="168.10" y="258.40" width="4.50" height="2.80" fill="#cc0010" stroke="#4a0000" stroke-width="0.7"/>
<line x1="170.50" y1="257.40" x2="170.50" y2="258.40" class="err"/>
<line x1="169.60" y1="257.40" x2="171.40" y2="257.40" class="err"/>
<line x1="170.50" y1="258.40" x2="170.50" y2="259.40" stroke="#5a0000" stroke-width="0.7"/>
<line x1="169.60" y1="259.40" x2="171.40" y2="259.40" stroke="#5a0000" stroke-width="0.7"/>
<text x="170.35" y="256.80" class="sig">ab</text>
<rect x="176.10" y="257.90" width="4.50" height="3.30" fill="#cc0010" stroke="#4a0000" stroke-width="0.7"/>
<line x1="178.50" y1="256.40" x2="178.50" y2="257.90" class="err"/>
<line x1="177.60" y1="256.40" x2="179.40" y2="256.40" class="err"/>
<line x1="178.50" y1="257.90" x2="178.50" y2="259.40" stroke="#5a0000" stroke-width="0.7"/>
<line x1="177.60" y1="259.40" x2="179.40" y2="259.40" stroke="#5a0000" stroke-width="0.7"/>
<text x="178.35" y="255.80" class="sig">e</text>
<rect x="184.10" y="255.80" width="4.50" height="5.40" fill="#cc0010" stroke="#4a0000" stroke-width="0.7"/>
<line x1="186.50" y1="253.90" x2="186.50" y2="255.80" class="err"/>
<line x1="185.60" y1="253.90" x2="187.40" y2="253.90" class="err"/>
<line x1="186.50" y1="255.80" x2="186.50" y2="257.70" stroke="#5a0000" stroke-width="0.7"/>
<line x1="185.60" y1="257.70" x2="187.40" y2="257.70" stroke="#5a0000" stroke-width="0.7"/>
<text x="186.35" y="253.30" class="sig">def</text>
<rect x="192.10" y="252.40" width="4.50" height="8.80" fill="#cc0010" stroke="#4a0000" stroke-width="0.7"/>
<line x1="194.50" y1="249.90" x2="194.50" y2="252.40" class="err"/>
<line x1="193.60" y1="249.90" x2="195.40" y2="249.90" class="err"/>
<line x1="194.50" y1="252.40" x2="194.50" y2="254.90" stroke="#5a0000" stroke-width="0.7"/>
<line x1="193.60" y1="254.90" x2="195.40" y2="254.90" stroke="#5a0000" stroke-width="0.7"/>
<text x="194.35" y="249.30" class="sig">b</text>
<circle cx="220.65" cy="259.00" r="0.95" fill="#606060"/>
<circle cx="229.80" cy="259.00" r="0.95" fill="#606060"/>
<circle cx="238.95" cy="259.00" r="0.95" fill="#606060"/>
<rect x="245.65" y="235.00" width="4.90" height="26.20" fill="#0a0a0a" stroke="#000" stroke-width="0.7"/>
<line x1="248.50" y1="225.60" x2="248.50" y2="235.00" class="err"/>
<line x1="247.60" y1="225.60" x2="249.40" y2="225.60" class="err"/>
<text x="248.10" y="225.00" class="sig">f</text>
<rect x="254.80" y="259.60" width="4.90" height="1.60" fill="#0a0a0a" stroke="#000" stroke-width="0.7"/>
<line x1="257.50" y1="258.40" x2="257.50" y2="259.60" class="err"/>
<line x1="256.60" y1="258.40" x2="258.40" y2="258.40" class="err"/>
<text x="257.25" y="257.80" class="sig">fgh</text>
<rect x="263.95" y="245.20" width="4.90" height="16.00" fill="#0a0a0a" stroke="#000" stroke-width="0.7"/>
<line x1="266.50" y1="239.20" x2="266.50" y2="245.20" class="err"/>
<line x1="265.60" y1="239.20" x2="267.40" y2="239.20" class="err"/>
<text x="266.40" y="238.60" class="sig">c</text>
<circle cx="275.55" cy="259.00" r="0.95" fill="#606060"/>
<circle cx="284.70" cy="259.00" r="0.95" fill="#606060"/>
<circle cx="293.85" cy="259.00" r="0.95" fill="#606060"/>
<rect x="300.55" y="228.50" width="4.90" height="32.70" fill="#cc0010" stroke="#4a0000" stroke-width="0.7"/>
<line x1="302.50" y1="219.90" x2="302.50" y2="228.50" class="err"/>
<line x1="301.60" y1="219.90" x2="303.40" y2="219.90" class="err"/>
<line x1="302.50" y1="228.50" x2="302.50" y2="237.10" stroke="#5a0000" stroke-width="0.7"/>
<line x1="301.60" y1="237.10" x2="303.40" y2="237.10" stroke="#5a0000" stroke-width="0.7"/>
<text x="303.00" y="219.30" class="sig">h</text>
<rect x="309.70" y="257.20" width="4.90" height="4.00" fill="#cc0010" stroke="#4a0000" stroke-width="0.7"/>
<line x1="312.50" y1="254.90" x2="312.50" y2="257.20" class="err"/>
<line x1="311.60" y1="254.90" x2="313.40" y2="254.90" class="err"/>
<line x1="312.50" y1="257.20" x2="312.50" y2="259.50" stroke="#5a0000" stroke-width="0.7"/>
<line x1="311.60" y1="259.50" x2="313.40" y2="259.50" stroke="#5a0000" stroke-width="0.7"/>
<text x="312.15" y="254.30" class="sig">b</text>
<rect x="318.85" y="244.70" width="4.90" height="16.50" fill="#cc0010" stroke="#4a0000" stroke-width="0.7"/>
<line x1="321.50" y1="236.70" x2="321.50" y2="244.70" class="err"/>
<line x1="320.60" y1="236.70" x2="322.40" y2="236.70" class="err"/>
<line x1="321.50" y1="244.70" x2="321.50" y2="252.70" stroke="#5a0000" stroke-width="0.7"/>
<line x1="320.60" y1="252.70" x2="322.40" y2="252.70" stroke="#5a0000" stroke-width="0.7"/>
<text x="321.30" y="236.10" class="sig">d</text>
<rect x="38.7" y="208.4" width="159.2" height="52.79999999999998" class="ax"/>
<rect x="215.6" y="208.4" width="110.1" height="52.79999999999998" class="ax"/>
<text x="33.3" y="210.00" class="tk" text-anchor="end">5.0</text>
<text x="33.3" y="220.56" class="tk" text-anchor="end">4.0</text>
<line x1="38.70" y1="218.96" x2="39.90" y2="218.96" class="ax"/>
<text x="33.3" y="231.12" class="tk" text-anchor="end">3.0</text>
<line x1="38.70" y1="229.52" x2="39.90" y2="229.52" class="ax"/>
<text x="33.3" y="241.68" class="tk" text-anchor="end">2.0</text>
<line x1="38.70" y1="240.08" x2="39.90" y2="240.08" class="ax"/>
<text x="33.3" y="252.24" class="tk" text-anchor="end">1.0</text>
<line x1="38.70" y1="250.64" x2="39.90" y2="250.64" class="ax"/>
<text x="33.3" y="262.80" class="tk" text-anchor="end">0.0</text>
<text x="329.6" y="210.00" class="tk" text-anchor="start">25</text>
<text x="329.6" y="220.56" class="tk" text-anchor="start">20</text>
<line x1="324.50" y1="218.96" x2="325.70" y2="218.96" class="ax"/>
<text x="329.6" y="231.12" class="tk" text-anchor="start">15</text>
<line x1="324.50" y1="229.52" x2="325.70" y2="229.52" class="ax"/>
<text x="329.6" y="241.68" class="tk" text-anchor="start">10</text>
<line x1="324.50" y1="240.08" x2="325.70" y2="240.08" class="ax"/>
<text x="329.6" y="252.24" class="tk" text-anchor="start">5</text>
<line x1="324.50" y1="250.64" x2="325.70" y2="250.64" class="ax"/>
<text x="329.6" y="262.80" class="tk" text-anchor="start">0</text>
<text x="195.6" y="215.00" class="gene">OsKala4</text>
<text x="323.7" y="215.00" class="gene">OsKala4</text>
<rect x="40.10" y="303.70" width="4.50" height="20.70" fill="#ffffff" stroke="#111" stroke-width="0.7"/>
<line x1="42.50" y1="297.40" x2="42.50" y2="303.70" class="err"/>
<line x1="41.60" y1="297.40" x2="43.40" y2="297.40" class="err"/>
<line x1="42.50" y1="303.70" x2="42.50" y2="310.00" stroke="#555" stroke-width="0.7"/>
<line x1="41.60" y1="310.00" x2="43.40" y2="310.00" stroke="#555" stroke-width="0.7"/>
<text x="42.35" y="296.80" class="sig">h</text>
<rect x="48.10" y="322.40" width="4.50" height="2.00" fill="#ffffff" stroke="#111" stroke-width="0.7"/>
<line x1="50.50" y1="320.40" x2="50.50" y2="322.40" class="err"/>
<line x1="49.60" y1="320.40" x2="51.40" y2="320.40" class="err"/>
<line x1="50.50" y1="322.40" x2="50.50" y2="323.90" stroke="#555" stroke-width="0.7"/>
<line x1="49.60" y1="323.90" x2="51.40" y2="323.90" stroke="#555" stroke-width="0.7"/>
<text x="50.35" y="319.80" class="sig">b</text>
<circle cx="58.35" cy="322.20" r="0.95" fill="#606060"/>
<rect x="64.10" y="306.70" width="4.50" height="17.70" fill="#ffffff" stroke="#111" stroke-width="0.7"/>
<line x1="66.50" y1="300.80" x2="66.50" y2="306.70" class="err"/>
<line x1="65.60" y1="300.80" x2="67.40" y2="300.80" class="err"/>
<line x1="66.50" y1="306.70" x2="66.50" y2="312.60" stroke="#555" stroke-width="0.7"/>
<line x1="65.60" y1="312.60" x2="67.40" y2="312.60" stroke="#555" stroke-width="0.7"/>
<text x="66.35" y="300.20" class="sig">abc</text>
<rect x="72.10" y="314.60" width="4.50" height="9.80" fill="#ffffff" stroke="#111" stroke-width="0.7"/>
<line x1="74.50" y1="312.40" x2="74.50" y2="314.60" class="err"/>
<line x1="73.60" y1="312.40" x2="75.40" y2="312.40" class="err"/>
<line x1="74.50" y1="314.60" x2="74.50" y2="316.80" stroke="#555" stroke-width="0.7"/>
<line x1="73.60" y1="316.80" x2="75.40" y2="316.80" stroke="#555" stroke-width="0.7"/>
<text x="74.35" y="311.80" class="sig">a</text>
<rect x="80.10" y="313.20" width="4.50" height="11.20" fill="#0a0a0a" stroke="#000" stroke-width="0.7"/>
<line x1="82.50" y1="310.40" x2="82.50" y2="313.20" class="err"/>
<line x1="81.60" y1="310.40" x2="83.40" y2="310.40" class="err"/>
<text x="82.35" y="309.80" class="sig">de</text>
<rect x="88.10" y="318.40" width="4.50" height="6.00" fill="#0a0a0a" stroke="#000" stroke-width="0.7"/>
<line x1="90.50" y1="315.90" x2="90.50" y2="318.40" class="err"/>
<line x1="89.60" y1="315.90" x2="91.40" y2="315.90" class="err"/>
<text x="90.35" y="315.30" class="sig">bcd</text>
<rect x="96.10" y="317.50" width="4.50" height="6.90" fill="#0a0a0a" stroke="#000" stroke-width="0.7"/>
<line x1="98.50" y1="314.90" x2="98.50" y2="317.50" class="err"/>
<line x1="97.60" y1="314.90" x2="99.40" y2="314.90" class="err"/>
<text x="98.35" y="314.30" class="sig">ab</text>
<rect x="104.10" y="293.60" width="4.50" height="30.80" fill="#0a0a0a" stroke="#000" stroke-width="0.7"/>
<line x1="106.50" y1="281.10" x2="106.50" y2="293.60" class="err"/>
<line x1="105.60" y1="281.10" x2="107.40" y2="281.10" class="err"/>
<text x="106.35" y="280.50" class="sig">e</text>
<rect x="112.10" y="304.40" width="4.50" height="20.00" fill="#0a0a0a" stroke="#000" stroke-width="0.7"/>
<line x1="114.50" y1="299.10" x2="114.50" y2="304.40" class="err"/>
<line x1="113.60" y1="299.10" x2="115.40" y2="299.10" class="err"/>
<text x="114.35" y="298.50" class="sig">def</text>
<rect x="120.10" y="318.90" width="4.50" height="5.50" fill="#0a0a0a" stroke="#000" stroke-width="0.7"/>
<line x1="122.50" y1="317.40" x2="122.50" y2="318.90" class="err"/>
<line x1="121.60" y1="317.40" x2="123.40" y2="317.40" class="err"/>
<text x="122.35" y="316.80" class="sig">b</text>
<rect x="128.10" y="320.10" width="4.50" height="4.30" fill="#0a0a0a" stroke="#000" stroke-width="0.7"/>
<line x1="130.50" y1="318.90" x2="130.50" y2="320.10" class="err"/>
<line x1="129.60" y1="318.90" x2="131.40" y2="318.90" class="err"/>
<text x="130.35" y="318.30" class="sig">ef</text>
<rect x="136.10" y="306.90" width="4.50" height="17.50" fill="#0a0a0a" stroke="#000" stroke-width="0.7"/>
<line x1="138.50" y1="297.00" x2="138.50" y2="306.90" class="err"/>
<line x1="137.60" y1="297.00" x2="139.40" y2="297.00" class="err"/>
<text x="138.35" y="296.40" class="sig">efg</text>
<rect x="144.10" y="296.70" width="4.50" height="27.70" fill="#0a0a0a" stroke="#000" stroke-width="0.7"/>
<line x1="146.50" y1="292.40" x2="146.50" y2="296.70" class="err"/>
<line x1="145.60" y1="292.40" x2="147.40" y2="292.40" class="err"/>
<text x="146.35" y="291.80" class="sig">bc</text>
<rect x="152.10" y="313.60" width="4.50" height="10.80" fill="#0a0a0a" stroke="#000" stroke-width="0.7"/>
<line x1="154.50" y1="311.40" x2="154.50" y2="313.60" class="err"/>
<line x1="153.60" y1="311.40" x2="155.40" y2="311.40" class="err"/>
<text x="154.35" y="310.80" class="sig">f</text>
<circle cx="162.35" cy="322.20" r="0.95" fill="#606060"/>
<rect x="168.10" y="312.40" width="4.50" height="12.00" fill="#cc0010" stroke="#4a0000" stroke-width="0.7"/>
<line x1="170.50" y1="309.00" x2="170.50" y2="312.40" class="err"/>
<line x1="169.60" y1="309.00" x2="171.40" y2="309.00" class="err"/>
<line x1="170.50" y1="312.40" x2="170.50" y2="315.80" stroke="#5a0000" stroke-width="0.7"/>
<line x1="169.60" y1="315.80" x2="171.40" y2="315.80" stroke="#5a0000" stroke-width="0.7"/>
<text x="170.35" y="308.40" class="sig">c</text>
<rect x="176.10" y="317.50" width="4.50" height="6.90" fill="#cc0010" stroke="#4a0000" stroke-width="0.7"/>
<line x1="178.50" y1="313.90" x2="178.50" y2="317.50" class="err"/>
<line x1="177.60" y1="313.90" x2="179.40" y2="313.90" class="err"/>
<line x1="178.50" y1="317.50" x2="178.50" y2="321.10" stroke="#5a0000" stroke-width="0.7"/>
<line x1="177.60" y1="321.10" x2="179.40" y2="321.10" stroke="#5a0000" stroke-width="0.7"/>
<text x="178.35" y="313.30" class="sig">g</text>
<circle cx="186.35" cy="322.20" r="0.95" fill="#606060"/>
<rect x="192.10" y="319.60" width="4.50" height="4.80" fill="#cc0010" stroke="#4a0000" stroke-width="0.7"/>
<line x1="194.50" y1="317.90" x2="194.50" y2="319.60" class="err"/>
<line x1="193.60" y1="317.90" x2="195.40" y2="317.90" class="err"/>
<line x1="194.50" y1="319.60" x2="194.50" y2="321.30" stroke="#5a0000" stroke-width="0.7"/>
<line x1="193.60" y1="321.30" x2="195.40" y2="321.30" stroke="#5a0000" stroke-width="0.7"/>
<text x="194.35" y="317.30" class="sig">cd</text>
<rect x="218.20" y="317.20" width="4.90" height="7.20" fill="#ffffff" stroke="#111" stroke-width="0.7"/>
<line x1="220.50" y1="314.40" x2="220.50" y2="317.20" class="err"/>
<line x1="219.60" y1="314.40" x2="221.40" y2="314.40" class="err"/>
<line x1="220.50" y1="317.20" x2="220.50" y2="320.00" stroke="#555" stroke-width="0.7"/>
<line x1="219.60" y1="320.00" x2="221.40" y2="320.00" stroke="#555" stroke-width="0.7"/>
<text x="220.65" y="313.80" class="sig">h</text>
<rect x="227.35" y="323.80" width="4.90" height="0.60" fill="#ffffff" stroke="#111" stroke-width="0.7"/>
<line x1="229.50" y1="322.90" x2="229.50" y2="323.80" class="err"/>
<line x1="228.60" y1="322.90" x2="230.40" y2="322.90" class="err"/>
<line x1="229.50" y1="323.80" x2="229.50" y2="323.90" stroke="#555" stroke-width="0.7"/>
<line x1="228.60" y1="323.90" x2="230.40" y2="323.90" stroke="#555" stroke-width="0.7"/>
<text x="229.80" y="322.30" class="sig">b</text>
<rect x="236.50" y="319.20" width="4.90" height="5.20" fill="#ffffff" stroke="#111" stroke-width="0.7"/>
<line x1="238.50" y1="316.40" x2="238.50" y2="319.20" class="err"/>
<line x1="237.60" y1="316.40" x2="239.40" y2="316.40" class="err"/>
<line x1="238.50" y1="319.20" x2="238.50" y2="322.00" stroke="#555" stroke-width="0.7"/>
<line x1="237.60" y1="322.00" x2="239.40" y2="322.00" stroke="#555" stroke-width="0.7"/>
<text x="238.95" y="315.80" class="sig">d</text>
<rect x="245.65" y="285.90" width="4.90" height="38.50" fill="#0a0a0a" stroke="#000" stroke-width="0.7"/>
<line x1="248.50" y1="275.30" x2="248.50" y2="285.90" class="err"/>
<line x1="247.60" y1="275.30" x2="249.40" y2="275.30" class="err"/>
<text x="248.10" y="274.70" class="sig">abc</text>
<rect x="254.80" y="323.40" width="4.90" height="1.00" fill="#0a0a0a" stroke="#000" stroke-width="0.7"/>
<line x1="257.50" y1="322.40" x2="257.50" y2="323.40" class="err"/>
<line x1="256.60" y1="322.40" x2="258.40" y2="322.40" class="err"/>
<text x="257.25" y="321.80" class="sig">a</text>
<rect x="263.95" y="304.70" width="4.90" height="19.70" fill="#0a0a0a" stroke="#000" stroke-width="0.7"/>
<line x1="266.50" y1="297.90" x2="266.50" y2="304.70" class="err"/>
<line x1="265.60" y1="297.90" x2="267.40" y2="297.90" class="err"/>
<text x="266.40" y="297.30" class="sig">de</text>
<rect x="273.10" y="311.60" width="4.90" height="12.80" fill="#0a0a0a" stroke="#000" stroke-width="0.7"/>
<line x1="275.50" y1="308.10" x2="275.50" y2="311.60" class="err"/>
<line x1="274.60" y1="308.10" x2="276.40" y2="308.10" class="err"/>
<text x="275.55" y="307.50" class="sig">bcd</text>
<rect x="282.25" y="321.40" width="4.90" height="3.00" fill="#0a0a0a" stroke="#000" stroke-width="0.7"/>
<line x1="284.50" y1="320.40" x2="284.50" y2="321.40" class="err"/>
<line x1="283.60" y1="320.40" x2="285.40" y2="320.40" class="err"/>
<text x="284.70" y="319.80" class="sig">ab</text>
<rect x="291.40" y="316.70" width="4.90" height="7.70" fill="#0a0a0a" stroke="#000" stroke-width="0.7"/>
<line x1="293.50" y1="313.40" x2="293.50" y2="316.70" class="err"/>
<line x1="292.60" y1="313.40" x2="294.40" y2="313.40" class="err"/>
<text x="293.85" y="312.80" class="sig">e</text>
<rect x="300.55" y="316.20" width="4.90" height="8.20" fill="#cc0010" stroke="#4a0000" stroke-width="0.7"/>
<line x1="302.50" y1="312.90" x2="302.50" y2="316.20" class="err"/>
<line x1="301.60" y1="312.90" x2="303.40" y2="312.90" class="err"/>
<line x1="302.50" y1="316.20" x2="302.50" y2="319.50" stroke="#5a0000" stroke-width="0.7"/>
<line x1="301.60" y1="319.50" x2="303.40" y2="319.50" stroke="#5a0000" stroke-width="0.7"/>
<text x="303.00" y="312.30" class="sig">def</text>
<rect x="309.70" y="321.00" width="4.90" height="3.40" fill="#cc0010" stroke="#4a0000" stroke-width="0.7"/>
<line x1="312.50" y1="319.40" x2="312.50" y2="321.00" class="err"/>
<line x1="311.60" y1="319.40" x2="313.40" y2="319.40" class="err"/>
<line x1="312.50" y1="321.00" x2="312.50" y2="322.60" stroke="#5a0000" stroke-width="0.7"/>
<line x1="311.60" y1="322.60" x2="313.40" y2="322.60" stroke="#5a0000" stroke-width="0.7"/>
<text x="312.15" y="318.80" class="sig">b</text>
<rect x="318.85" y="321.00" width="4.90" height="3.40" fill="#cc0010" stroke="#4a0000" stroke-width="0.7"/>
<line x1="321.50" y1="319.40" x2="321.50" y2="321.00" class="err"/>
<line x1="320.60" y1="319.40" x2="322.40" y2="319.40" class="err"/>
<line x1="321.50" y1="321.00" x2="321.50" y2="322.60" stroke="#5a0000" stroke-width="0.7"/>
<line x1="320.60" y1="322.60" x2="322.40" y2="322.60" stroke="#5a0000" stroke-width="0.7"/>
<text x="321.30" y="318.80" class="sig">ef</text>
<rect x="38.7" y="271.3" width="159.2" height="53.099999999999966" class="ax"/>
<rect x="215.6" y="271.3" width="110.1" height="53.099999999999966" class="ax"/>
<text x="33.3" y="272.90" class="tk" text-anchor="end">2.5</text>
<text x="33.3" y="283.52" class="tk" text-anchor="end">2.0</text>
<line x1="38.70" y1="281.92" x2="39.90" y2="281.92" class="ax"/>
<text x="33.3" y="294.14" class="tk" text-anchor="end">1.5</text>
<line x1="38.70" y1="292.54" x2="39.90" y2="292.54" class="ax"/>
<text x="33.3" y="304.76" class="tk" text-anchor="end">1.0</text>
<line x1="38.70" y1="303.16" x2="39.90" y2="303.16" class="ax"/>
<text x="33.3" y="315.38" class="tk" text-anchor="end">0.5</text>
<line x1="38.70" y1="313.78" x2="39.90" y2="313.78" class="ax"/>
<text x="33.3" y="326.00" class="tk" text-anchor="end">0.0</text>
<text x="329.6" y="272.90" class="tk" text-anchor="start">20</text>
<text x="329.6" y="286.18" class="tk" text-anchor="start">15</text>
<line x1="324.50" y1="284.57" x2="325.70" y2="284.57" class="ax"/>
<text x="329.6" y="299.45" class="tk" text-anchor="start">10</text>
<line x1="324.50" y1="297.85" x2="325.70" y2="297.85" class="ax"/>
<text x="329.6" y="312.73" class="tk" text-anchor="start">5</text>
<line x1="324.50" y1="311.12" x2="325.70" y2="311.12" class="ax"/>
<text x="329.6" y="326.00" class="tk" text-anchor="start">0</text>
<text x="195.6" y="277.90" class="gene">OsRb</text>
<text x="323.7" y="277.90" class="gene">OsRb</text>
<rect x="40.10" y="385.90" width="4.50" height="1.00" fill="#ffffff" stroke="#111" stroke-width="0.7"/>
<line x1="42.50" y1="384.90" x2="42.50" y2="385.90" class="err"/>
<line x1="41.60" y1="384.90" x2="43.40" y2="384.90" class="err"/>
<line x1="42.50" y1="385.90" x2="42.50" y2="386.40" stroke="#555" stroke-width="0.7"/>
<line x1="41.60" y1="386.40" x2="43.40" y2="386.40" stroke="#555" stroke-width="0.7"/>
<text x="42.35" y="384.30" class="sig">def</text>
<rect x="48.10" y="383.90" width="4.50" height="3.00" fill="#ffffff" stroke="#111" stroke-width="0.7"/>
<line x1="50.50" y1="381.90" x2="50.50" y2="383.90" class="err"/>
<line x1="49.60" y1="381.90" x2="51.40" y2="381.90" class="err"/>
<line x1="50.50" y1="383.90" x2="50.50" y2="385.90" stroke="#555" stroke-width="0.7"/>
<line x1="49.60" y1="385.90" x2="51.40" y2="385.90" stroke="#555" stroke-width="0.7"/>
<text x="50.35" y="381.30" class="sig">b</text>
<rect x="56.10" y="380.80" width="4.50" height="6.10" fill="#ffffff" stroke="#111" stroke-width="0.7"/>
<line x1="58.50" y1="377.90" x2="58.50" y2="380.80" class="err"/>
<line x1="57.60" y1="377.90" x2="59.40" y2="377.90" class="err"/>
<line x1="58.50" y1="380.80" x2="58.50" y2="383.70" stroke="#555" stroke-width="0.7"/>
<line x1="57.60" y1="383.70" x2="59.40" y2="383.70" stroke="#555" stroke-width="0.7"/>
<text x="58.35" y="377.30" class="sig">ef</text>
<rect x="64.10" y="382.20" width="4.50" height="4.70" fill="#ffffff" stroke="#111" stroke-width="0.7"/>
<line x1="66.50" y1="379.40" x2="66.50" y2="382.20" class="err"/>
<line x1="65.60" y1="379.40" x2="67.40" y2="379.40" class="err"/>
<line x1="66.50" y1="382.20" x2="66.50" y2="385.00" stroke="#555" stroke-width="0.7"/>
<line x1="65.60" y1="385.00" x2="67.40" y2="385.00" stroke="#555" stroke-width="0.7"/>
<text x="66.35" y="378.80" class="sig">efg</text>
<rect x="72.10" y="383.40" width="4.50" height="3.50" fill="#ffffff" stroke="#111" stroke-width="0.7"/>
<line x1="74.50" y1="381.40" x2="74.50" y2="383.40" class="err"/>
<line x1="73.60" y1="381.40" x2="75.40" y2="381.40" class="err"/>
<line x1="74.50" y1="383.40" x2="74.50" y2="385.40" stroke="#555" stroke-width="0.7"/>
<line x1="73.60" y1="385.40" x2="75.40" y2="385.40" stroke="#555" stroke-width="0.7"/>
<text x="74.35" y="380.80" class="sig">bc</text>
<rect x="80.10" y="381.70" width="4.50" height="5.20" fill="#0a0a0a" stroke="#000" stroke-width="0.7"/>
<line x1="82.50" y1="379.90" x2="82.50" y2="381.70" class="err"/>
<line x1="81.60" y1="379.90" x2="83.40" y2="379.90" class="err"/>
<text x="82.35" y="379.30" class="sig">f</text>
<rect x="88.10" y="382.20" width="4.50" height="4.70" fill="#0a0a0a" stroke="#000" stroke-width="0.7"/>
<line x1="90.50" y1="379.90" x2="90.50" y2="382.20" class="err"/>
<line x1="89.60" y1="379.90" x2="91.40" y2="379.90" class="err"/>
<text x="90.35" y="379.30" class="sig">fgh</text>
<rect x="96.10" y="374.80" width="4.50" height="12.10" fill="#0a0a0a" stroke="#000" stroke-width="0.7"/>
<line x1="98.50" y1="372.40" x2="98.50" y2="374.80" class="err"/>
<line x1="97.60" y1="372.40" x2="99.40" y2="372.40" class="err"/>
<text x="98.35" y="371.80" class="sig">c</text>
<rect x="104.10" y="344.10" width="4.50" height="42.80" fill="#0a0a0a" stroke="#000" stroke-width="0.7"/>
<line x1="106.50" y1="338.60" x2="106.50" y2="344.10" class="err"/>
<line x1="105.60" y1="338.60" x2="107.40" y2="338.60" class="err"/>
<text x="106.35" y="338.00" class="sig">g</text>
<rect x="112.10" y="374.80" width="4.50" height="12.10" fill="#0a0a0a" stroke="#000" stroke-width="0.7"/>
<line x1="114.50" y1="372.40" x2="114.50" y2="374.80" class="err"/>
<line x1="113.60" y1="372.40" x2="115.40" y2="372.40" class="err"/>
<text x="114.35" y="371.80" class="sig">a</text>
<rect x="120.10" y="383.70" width="4.50" height="3.20" fill="#0a0a0a" stroke="#000" stroke-width="0.7"/>
<line x1="122.50" y1="382.40" x2="122.50" y2="383.70" class="err"/>
<line x1="121.60" y1="382.40" x2="123.40" y2="382.40" class="err"/>
<text x="122.35" y="381.80" class="sig">cd</text>
<rect x="128.10" y="381.20" width="4.50" height="5.70" fill="#0a0a0a" stroke="#000" stroke-width="0.7"/>
<line x1="130.50" y1="378.90" x2="130.50" y2="381.20" class="err"/>
<line x1="129.60" y1="378.90" x2="131.40" y2="378.90" class="err"/>
<text x="130.35" y="378.30" class="sig">h</text>
<rect x="136.10" y="374.50" width="4.50" height="12.40" fill="#0a0a0a" stroke="#000" stroke-width="0.7"/>
<line x1="138.50" y1="371.90" x2="138.50" y2="374.50" class="err"/>
<line x1="137.60" y1="371.90" x2="139.40" y2="371.90" class="err"/>
<text x="138.35" y="371.30" class="sig">b</text>
<rect x="144.10" y="353.10" width="4.50" height="33.80" fill="#0a0a0a" stroke="#000" stroke-width="0.7"/>
<line x1="146.50" y1="344.90" x2="146.50" y2="353.10" class="err"/>
<line x1="145.60" y1="344.90" x2="147.40" y2="344.90" class="err"/>
<text x="146.35" y="344.30" class="sig">d</text>
<rect x="152.10" y="367.20" width="4.50" height="19.70" fill="#0a0a0a" stroke="#000" stroke-width="0.7"/>
<line x1="154.50" y1="364.40" x2="154.50" y2="367.20" class="err"/>
<line x1="153.60" y1="364.40" x2="155.40" y2="364.40" class="err"/>
<text x="154.35" y="363.80" class="sig">abc</text>
<rect x="160.10" y="383.40" width="4.50" height="3.50" fill="#cc0010" stroke="#4a0000" stroke-width="0.7"/>
<line x1="162.50" y1="381.90" x2="162.50" y2="383.40" class="err"/>
<line x1="161.60" y1="381.90" x2="163.40" y2="381.90" class="err"/>
<line x1="162.50" y1="383.40" x2="162.50" y2="384.90" stroke="#5a0000" stroke-width="0.7"/>
<line x1="161.60" y1="384.90" x2="163.40" y2="384.90" stroke="#5a0000" stroke-width="0.7"/>
<text x="162.35" y="381.30" class="sig">a</text>
<rect x="168.10" y="381.40" width="4.50" height="5.50" fill="#cc0010" stroke="#4a0000" stroke-width="0.7"/>
<line x1="170.50" y1="379.40" x2="170.50" y2="381.40" class="err"/>
<line x1="169.60" y1="379.40" x2="171.40" y2="379.40" class="err"/>
<line x1="170.50" y1="381.40" x2="170.50" y2="383.40" stroke="#5a0000" stroke-width="0.7"/>
<line x1="169.60" y1="383.40" x2="171.40" y2="383.40" stroke="#5a0000" stroke-width="0.7"/>
<text x="170.35" y="378.80" class="sig">de</text>
<rect x="176.10" y="377.40" width="4.50" height="9.50" fill="#cc0010" stroke="#4a0000" stroke-width="0.7"/>
<line x1="178.50" y1="374.90" x2="178.50" y2="377.40" class="err"/>
<line x1="177.60" y1="374.90" x2="179.40" y2="374.90" class="err"/>
<line x1="178.50" y1="377.40" x2="178.50" y2="379.90" stroke="#5a0000" stroke-width="0.7"/>
<line x1="177.60" y1="379.90" x2="179.40" y2="379.90" stroke="#5a0000" stroke-width="0.7"/>
<text x="178.35" y="374.30" class="sig">bcd</text>
<rect x="184.10" y="379.60" width="4.50" height="7.30" fill="#cc0010" stroke="#4a0000" stroke-width="0.7"/>
<line x1="186.50" y1="376.90" x2="186.50" y2="379.60" class="err"/>
<line x1="185.60" y1="376.90" x2="187.40" y2="376.90" class="err"/>
<line x1="186.50" y1="379.60" x2="186.50" y2="382.30" stroke="#5a0000" stroke-width="0.7"/>
<line x1="185.60" y1="382.30" x2="187.40" y2="382.30" stroke="#5a0000" stroke-width="0.7"/>
<text x="186.35" y="376.30" class="sig">ab</text>
<rect x="192.10" y="384.40" width="4.50" height="2.50" fill="#cc0010" stroke="#4a0000" stroke-width="0.7"/>
<line x1="194.50" y1="382.90" x2="194.50" y2="384.40" class="err"/>
<line x1="193.60" y1="382.90" x2="195.40" y2="382.90" class="err"/>
<line x1="194.50" y1="384.40" x2="194.50" y2="385.90" stroke="#5a0000" stroke-width="0.7"/>
<line x1="193.60" y1="385.90" x2="195.40" y2="385.90" stroke="#5a0000" stroke-width="0.7"/>
<text x="194.35" y="382.30" class="sig">e</text>
<rect x="218.20" y="362.60" width="4.90" height="24.30" fill="#ffffff" stroke="#111" stroke-width="0.7"/>
<line x1="220.50" y1="359.20" x2="220.50" y2="362.60" class="err"/>
<line x1="219.60" y1="359.20" x2="221.40" y2="359.20" class="err"/>
<line x1="220.50" y1="362.60" x2="220.50" y2="366.00" stroke="#555" stroke-width="0.7"/>
<line x1="219.60" y1="366.00" x2="221.40" y2="366.00" stroke="#555" stroke-width="0.7"/>
<text x="220.65" y="358.60" class="sig">def</text>
<rect x="227.35" y="356.60" width="4.90" height="30.30" fill="#ffffff" stroke="#111" stroke-width="0.7"/>
<line x1="229.50" y1="348.90" x2="229.50" y2="356.60" class="err"/>
<line x1="228.60" y1="348.90" x2="230.40" y2="348.90" class="err"/>
<line x1="229.50" y1="356.60" x2="229.50" y2="364.30" stroke="#555" stroke-width="0.7"/>
<line x1="228.60" y1="364.30" x2="230.40" y2="364.30" stroke="#555" stroke-width="0.7"/>
<text x="229.80" y="348.30" class="sig">b</text>
<rect x="236.50" y="361.40" width="4.90" height="25.50" fill="#ffffff" stroke="#111" stroke-width="0.7"/>
<line x1="238.50" y1="358.30" x2="238.50" y2="361.40" class="err"/>
<line x1="237.60" y1="358.30" x2="239.40" y2="358.30" class="err"/>
<line x1="238.50" y1="361.40" x2="238.50" y2="364.50" stroke="#555" stroke-width="0.7"/>
<line x1="237.60" y1="364.50" x2="239.40" y2="364.50" stroke="#555" stroke-width="0.7"/>
<text x="238.95" y="357.70" class="sig">ef</text>
<rect x="245.65" y="365.20" width="4.90" height="21.70" fill="#0a0a0a" stroke="#000" stroke-width="0.7"/>
<line x1="248.50" y1="361.40" x2="248.50" y2="365.20" class="err"/>
<line x1="247.60" y1="361.40" x2="249.40" y2="361.40" class="err"/>
<text x="248.10" y="360.80" class="sig">efg</text>
<rect x="254.80" y="371.60" width="4.90" height="15.30" fill="#0a0a0a" stroke="#000" stroke-width="0.7"/>
<line x1="257.50" y1="367.40" x2="257.50" y2="371.60" class="err"/>
<line x1="256.60" y1="367.40" x2="258.40" y2="367.40" class="err"/>
<text x="257.25" y="366.80" class="sig">bc</text>
<rect x="263.95" y="358.70" width="4.90" height="28.20" fill="#0a0a0a" stroke="#000" stroke-width="0.7"/>
<line x1="266.50" y1="354.00" x2="266.50" y2="358.70" class="err"/>
<line x1="265.60" y1="354.00" x2="267.40" y2="354.00" class="err"/>
<text x="266.40" y="353.40" class="sig">f</text>
<rect x="273.10" y="358.30" width="4.90" height="28.60" fill="#0a0a0a" stroke="#000" stroke-width="0.7"/>
<line x1="275.50" y1="352.40" x2="275.50" y2="358.30" class="err"/>
<line x1="274.60" y1="352.40" x2="276.40" y2="352.40" class="err"/>
<text x="275.55" y="351.80" class="sig">fgh</text>
<rect x="282.25" y="355.40" width="4.90" height="31.50" fill="#0a0a0a" stroke="#000" stroke-width="0.7"/>
<line x1="284.50" y1="349.80" x2="284.50" y2="355.40" class="err"/>
<line x1="283.60" y1="349.80" x2="285.40" y2="349.80" class="err"/>
<text x="284.70" y="349.20" class="sig">c</text>
<rect x="291.40" y="360.00" width="4.90" height="26.90" fill="#0a0a0a" stroke="#000" stroke-width="0.7"/>
<line x1="293.50" y1="356.40" x2="293.50" y2="360.00" class="err"/>
<line x1="292.60" y1="356.40" x2="294.40" y2="356.40" class="err"/>
<text x="293.85" y="355.80" class="sig">g</text>
<rect x="300.55" y="367.40" width="4.90" height="19.50" fill="#cc0010" stroke="#4a0000" stroke-width="0.7"/>
<line x1="302.50" y1="363.90" x2="302.50" y2="367.40" class="err"/>
<line x1="301.60" y1="363.90" x2="303.40" y2="363.90" class="err"/>
<line x1="302.50" y1="367.40" x2="302.50" y2="370.90" stroke="#5a0000" stroke-width="0.7"/>
<line x1="301.60" y1="370.90" x2="303.40" y2="370.90" stroke="#5a0000" stroke-width="0.7"/>
<text x="303.00" y="363.30" class="sig">a</text>
<rect x="309.70" y="361.70" width="4.90" height="25.20" fill="#cc0010" stroke="#4a0000" stroke-width="0.7"/>
<line x1="312.50" y1="357.90" x2="312.50" y2="361.70" class="err"/>
<line x1="311.60" y1="357.90" x2="313.40" y2="357.90" class="err"/>
<line x1="312.50" y1="361.70" x2="312.50" y2="365.50" stroke="#5a0000" stroke-width="0.7"/>
<line x1="311.60" y1="365.50" x2="313.40" y2="365.50" stroke="#5a0000" stroke-width="0.7"/>
<text x="312.15" y="357.30" class="sig">cd</text>
<rect x="318.85" y="361.40" width="4.90" height="25.50" fill="#cc0010" stroke="#4a0000" stroke-width="0.7"/>
<line x1="321.50" y1="357.90" x2="321.50" y2="361.40" class="err"/>
<line x1="320.60" y1="357.90" x2="322.40" y2="357.90" class="err"/>
<line x1="321.50" y1="361.40" x2="321.50" y2="364.90" stroke="#5a0000" stroke-width="0.7"/>
<line x1="320.60" y1="364.90" x2="322.40" y2="364.90" stroke="#5a0000" stroke-width="0.7"/>
<text x="321.30" y="357.30" class="sig">h</text>
<rect x="38.7" y="333.5" width="159.2" height="53.39999999999998" class="ax"/>
<rect x="215.6" y="333.5" width="110.1" height="53.39999999999998" class="ax"/>
<text x="33.3" y="335.10" class="tk" text-anchor="end">8.0</text>
<text x="33.3" y="348.45" class="tk" text-anchor="end">6.0</text>
<line x1="38.70" y1="346.85" x2="39.90" y2="346.85" class="ax"/>
<text x="33.3" y="361.80" class="tk" text-anchor="end">4.0</text>
<line x1="38.70" y1="360.20" x2="39.90" y2="360.20" class="ax"/>
<text x="33.3" y="375.15" class="tk" text-anchor="end">2.0</text>
<line x1="38.70" y1="373.55" x2="39.90" y2="373.55" class="ax"/>
<text x="33.3" y="388.50" class="tk" text-anchor="end">0.0</text>
<text x="329.6" y="335.10" class="tk" text-anchor="start">4.0</text>
<text x="329.6" y="348.45" class="tk" text-anchor="start">3.0</text>
<line x1="324.50" y1="346.85" x2="325.70" y2="346.85" class="ax"/>
<text x="329.6" y="361.80" class="tk" text-anchor="start">2.0</text>
<line x1="324.50" y1="360.20" x2="325.70" y2="360.20" class="ax"/>
<text x="329.6" y="375.15" class="tk" text-anchor="start">1.0</text>
<line x1="324.50" y1="373.55" x2="325.70" y2="373.55" class="ax"/>
<text x="329.6" y="388.50" class="tk" text-anchor="start">0.0</text>
<text x="195.6" y="340.10" class="gene">OsTTG1</text>
<text x="323.7" y="340.10" class="gene">OsTTG1</text>
<text transform="translate(21.5,243.2) rotate(-90)" style="font-size:7.5px;font-weight:bold;fill:#111;text-anchor:middle">Relative expression level</text>
<text transform="translate(343.2,243.7) rotate(90)" style="font-size:7.5px;font-weight:bold;fill:#111;text-anchor:middle">Relative expression level</text>
<text transform="translate(17.7,44.5) rotate(-90)" style="font-size:3.9px;font-weight:bold;fill:#222;text-anchor:middle">[A<tspan style="font-size:2.6px" dy="0.6">530</tspan><tspan dy="-0.6">-0.25*A</tspan><tspan style="font-size:2.6px" dy="0.6">657</tspan><tspan dy="-0.6">]/m</tspan><tspan style="font-size:2.6px" dy="-1">-1</tspan></text>
<text transform="translate(22.7,44.3) rotate(-90)" style="font-size:4.0px;font-weight:bold;fill:#222;text-anchor:middle">Anthocyanin content (ug/100mg)</text>
<text transform="translate(342.3,48.0) rotate(90)" style="font-size:4.0px;font-weight:bold;fill:#222;text-anchor:middle">Anthocyanin content (ug/100mg)</text>
<text transform="translate(346.8,47.8) rotate(90)" style="font-size:3.9px;font-weight:bold;fill:#222;text-anchor:middle">[A<tspan style="font-size:2.6px" dy="0.6">530</tspan><tspan dy="-0.6">-0.25*A</tspan><tspan style="font-size:2.6px" dy="0.6">657</tspan><tspan dy="-0.6">]/m</tspan><tspan style="font-size:2.6px" dy="-1">-1</tspan></text>
<text x="42.35" y="392.8" class="xl">5</text>
<text x="50.35" y="392.8" class="xl">10</text>
<text x="58.35" y="392.8" class="xl">15</text>
<text x="66.35" y="392.8" class="xl">20</text>
<text x="74.35" y="392.8" class="xl">30</text>
<line x1="39.90" y1="394.6" x2="76.80" y2="394.6" stroke="#222" stroke-width="0.8"/>
<text x="58.35" y="399.1" class="gl">IM</text>
<text x="82.35" y="392.8" class="xl">5</text>
<text x="90.35" y="392.8" class="xl">10</text>
<text x="98.35" y="392.8" class="xl">15</text>
<text x="106.35" y="392.8" class="xl">20</text>
<text x="114.35" y="392.8" class="xl">30</text>
<line x1="79.90" y1="394.6" x2="116.80" y2="394.6" stroke="#222" stroke-width="0.8"/>
<text x="98.35" y="399.1" class="gl">HN</text>
<text x="122.35" y="392.8" class="xl">5</text>
<text x="130.35" y="392.8" class="xl">10</text>
<text x="138.35" y="392.8" class="xl">15</text>
<text x="146.35" y="392.8" class="xl">20</text>
<text x="154.35" y="392.8" class="xl">30</text>
<line x1="119.90" y1="394.6" x2="156.80" y2="394.6" stroke="#222" stroke-width="0.8"/>
<text x="138.35" y="399.1" class="gl">HJJ</text>
<text x="162.35" y="392.8" class="xl">5</text>
<text x="170.35" y="392.8" class="xl">10</text>
<text x="178.35" y="392.8" class="xl">15</text>
<text x="186.35" y="392.8" class="xl">20</text>
<text x="194.35" y="392.8" class="xl">30</text>
<line x1="159.90" y1="394.6" x2="196.80" y2="394.6" stroke="#222" stroke-width="0.8"/>
<text x="178.35" y="399.1" class="gl">JJJ</text>
<text x="200.9" y="392.6" style="font-size:4.2px;font-weight:bold;fill:#111">DAP</text>
<text x="220.65" y="392.8" class="xl">L</text>
<text x="229.80" y="392.8" class="xl">R</text>
<text x="238.95" y="392.8" class="xl">Sd</text>
<line x1="217.90" y1="394.6" x2="241.70" y2="394.6" stroke="#222" stroke-width="0.8"/>
<text x="229.80" y="399.1" class="gl">IM</text>
<text x="248.10" y="392.8" class="xl">L</text>
<text x="257.25" y="392.8" class="xl">R</text>
<text x="266.40" y="392.8" class="xl">Sd</text>
<line x1="245.35" y1="394.6" x2="269.15" y2="394.6" stroke="#222" stroke-width="0.8"/>
<text x="257.25" y="399.1" class="gl">HN</text>
<text x="275.55" y="392.8" class="xl">L</text>
<text x="284.70" y="392.8" class="xl">R</text>
<text x="293.85" y="392.8" class="xl">Sd</text>
<line x1="272.80" y1="394.6" x2="296.60" y2="394.6" stroke="#222" stroke-width="0.8"/>
<text x="284.70" y="399.1" class="gl">HJJ</text>
<text x="303.00" y="392.8" class="xl">L</text>
<text x="312.15" y="392.8" class="xl">R</text>
<text x="321.30" y="392.8" class="xl">Sd</text>
<line x1="300.25" y1="394.6" x2="324.05" y2="394.6" stroke="#222" stroke-width="0.8"/>
<text x="312.15" y="399.1" class="gl">JJJ</text>
</svg></body></html>
